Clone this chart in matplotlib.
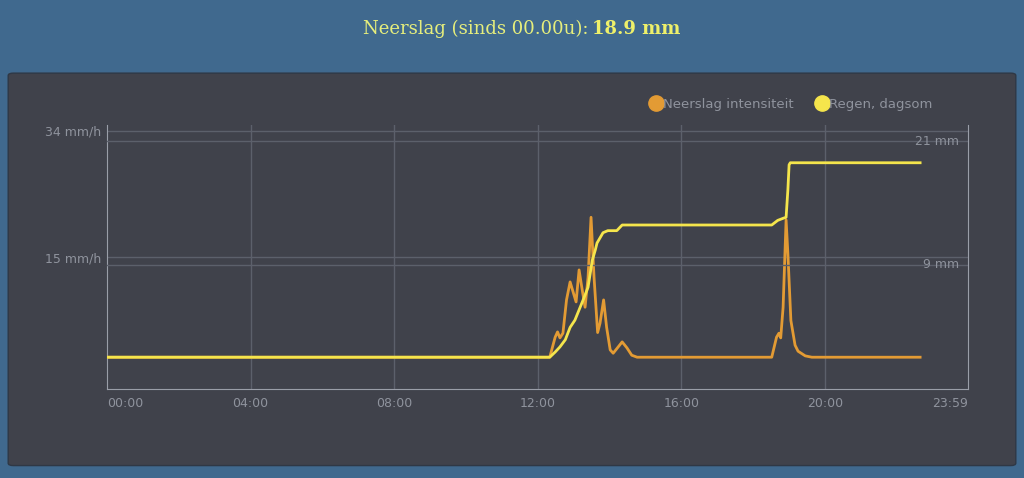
import matplotlib.pyplot as plt
from matplotlib.patches import FancyBboxPatch
from matplotlib.lines import Line2D

# data (times HH:MM, values)
int_times = ["00:00", "12:20", "12:29", "12:33", "12:37", "12:42", "12:48", "12:54", "12:59",
             "13:04", "13:09", "13:13", "13:19", "13:24", "13:29", "13:34", "13:40", "13:44",
             "13:50", "13:55", "14:01", "14:06", "14:14", "14:21", "14:29", "14:37", "14:46",
             "18:31", "18:39", "18:43", "18:46", "18:50", "18:55", "18:58", "19:03", "19:10",
             "19:15", "19:27", "19:38", "22:39"]
int_vals = [0, 0, 3.0, 3.8, 2.9, 3.6, 8.6, 11.3, 9.8,
            8.3, 13.1, 10.8, 7.5, 12.0, 21.0, 12.0, 3.7, 5.1,
            8.6, 4.5, 1.1, 0.6, 1.5, 2.3, 1.4, 0.3, 0,
            0, 3.0, 3.6, 2.9, 7.5, 20.6, 15.5, 5.5, 1.8,
            0.9, 0.2, 0, 0]

sum_times = ["00:00", "12:20", "12:29", "12:37", "12:46", "12:54", "13:02", "13:16", "13:24",
             "13:31", "13:36", "13:39", "13:49", "13:57", "14:12", "14:21", "18:31", "18:41",
             "18:50", "18:55", "18:58", "19:00", "19:02", "22:39"]
sum_vals = [0, 0, 0.5, 1.0, 1.7, 2.9, 3.6, 5.6, 6.8,
            9.4, 10.4, 11.1, 12.1, 12.3, 12.3, 12.85, 12.85, 13.3,
            13.5, 13.6, 16.3, 18.7, 18.9, 18.9]

xtick_hours = [0, 4, 8, 12, 16, 20, 23 + 59 / 60]
xtick_labels = ["00:00", "04:00", "08:00", "12:00", "16:00", "20:00", "23:59"]
left_ticks = [15, 34]
left_labels = ["15 mm/h", "34 mm/h"]
right_ticks = [9, 21]
right_labels = ["9 mm", "21 mm"]
total = 18.9


def hours(ts):
    return [int(t[:2]) + int(t[3:]) / 60 for t in ts]


BG = "#40698e"
PANEL = "#40424b"
GRID = "#5c606b"
AXIS = "#9a9ea8"
TXT = "#8f939d"
ORANGE = "#e39b34"
YELLOW = "#f5e54c"

fig = plt.figure(figsize=(10.24, 4.78), dpi=100, facecolor=BG)
panel = FancyBboxPatch((0.008, 0.026), 0.984, 0.821, boxstyle="round,pad=0,rounding_size=0.005",
                       transform=fig.transFigure, facecolor=PANEL, edgecolor="#2f3845", lw=1,
                       zorder=-5)
fig.patches.append(panel)

fig.text(0.5745, 0.94, "Neerslag (sinds 00.00u):", ha="right", va="center",
         color="#e6ee7c", fontsize=13, family="DejaVu Serif")
fig.text(0.5785, 0.94, f"{total} mm", ha="left", va="center",
         color="#eef06a", fontsize=13, family="DejaVu Serif", weight="bold")

ax = fig.add_axes([0.1045, 0.1862, 0.8408, 0.5523])
ax.patch.set_visible(False)
ax2 = ax.twinx()
ax2.patch.set_visible(False)

ax.plot(hours(int_times), int_vals, color=ORANGE, lw=2.0, solid_joinstyle="round", zorder=3)
ax2.plot(hours(sum_times), sum_vals, color=YELLOW, lw=2.0, solid_joinstyle="round", zorder=4)

ax.set_xlim(0, 23 + 59 / 60)
ax.set_ylim(-4.77, 34.85)
ax2.set_ylim(-3.09, 22.57)

for a in (ax, ax2):
    for s in a.spines.values():
        s.set_visible(False)

ax.spines["left"].set_visible(True)
ax.spines["bottom"].set_visible(True)
ax.spines["left"].set_color(AXIS)
ax.spines["bottom"].set_color(AXIS)
ax2.spines["right"].set_visible(True)
ax2.spines["right"].set_color(AXIS)

ax.set_xticks(xtick_hours)
ax.set_xticklabels(xtick_labels)
labs = ax.get_xticklabels()
labs[0].set_ha("left")
labs[-1].set_ha("right")
ax.tick_params(axis="x", length=0, pad=6, labelsize=9, labelcolor=TXT)
for h in xtick_hours[1:-1]:
    ax.axvline(h, color=GRID, lw=1, zorder=1)

ax.set_yticks(left_ticks)
ax.set_yticklabels(left_labels)
ax.tick_params(axis="y", length=0, pad=4, labelsize=9, labelcolor=TXT)
ax.grid(axis="y", color=GRID, lw=1)
ax.set_axisbelow(True)

ax2.set_yticks(right_ticks)
ax2.set_yticklabels([])
ax2.tick_params(axis="y", length=0)
for v, lab in zip(right_ticks, right_labels):
    ax2.axhline(v, color=GRID, lw=1, zorder=1)
    ax2.text(0.99, v, lab, transform=ax2.get_yaxis_transform(), ha="right", va="center",
             color=TXT, fontsize=9, zorder=2)

handles = [Line2D([], [], marker="o", ls="none", ms=11, color=ORANGE, label="Neerslag intensiteit"),
           Line2D([], [], marker="o", ls="none", ms=11, color=YELLOW, label="Regen, dagsom")]
fig.legend(handles=handles, loc="center right", bbox_to_anchor=(0.922, 0.782), ncol=2,
           frameon=False, fontsize=9.5, labelcolor=TXT, handletextpad=0.05, columnspacing=1.6,
           handlelength=1.0)

fig.savefig("out.png", dpi=100, facecolor=BG)
